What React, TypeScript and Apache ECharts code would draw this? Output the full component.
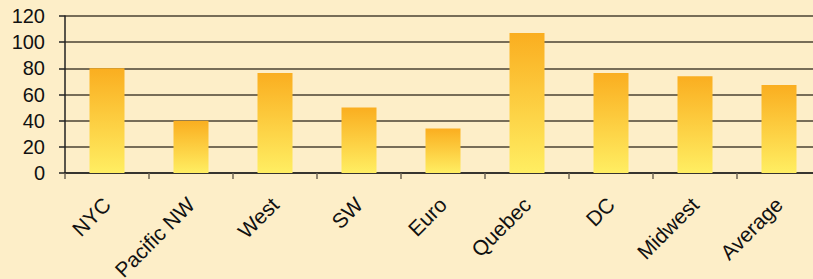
import React, { useEffect, useRef } from "react";
import * as echarts from "echarts";

const categories = ["NYC", "Pacific NW", "West", "SW", "Euro", "Quebec", "DC", "Midwest", "Average"];
const values = [80, 40, 76.5, 50, 34, 107, 76.5, 74, 67.3];
const yTicks = { min: 0, max: 120, interval: 20 };

export default function App() {
  const ref = useRef<HTMLDivElement>(null);
  useEffect(() => {
    if (!ref.current) return;
    const chart = echarts.init(ref.current, null, { renderer: "svg" });
    const font = "'Liberation Sans', Arial, Helvetica, sans-serif";
    chart.setOption({
      animation: false,
      backgroundColor: "#FDEEC8",
      grid: {
        left: 65,
        right: -8,
        top: 16,
        bottom: 106,
        containLabel: false,
        outerBoundsMode: "none",
      },
      xAxis: {
        type: "category",
        data: categories,
        axisLine: { show: true, lineStyle: { color: "#222", width: 1.5 } },
        axisTick: { show: true, length: 6, lineStyle: { color: "#6e6555", width: 1.5 } },
        axisLabel: {
          rotate: 45,
          interval: 0,
          margin: 28,
          color: "#111",
          fontSize: 21,
          fontFamily: font,
        },
      },
      yAxis: {
        type: "value",
        min: yTicks.min,
        max: yTicks.max,
        interval: yTicks.interval,
        axisLine: { show: true, lineStyle: { color: "#222", width: 1.5 } },
        axisTick: { show: true, length: 6, lineStyle: { color: "#222", width: 1.5 } },
        axisLabel: { margin: 20, color: "#111", fontSize: 20, fontFamily: font },
        splitLine: { show: true, lineStyle: { color: "#4a4233", width: 1.5 } },
      },
      series: [
        {
          type: "bar",
          data: values,
          barWidth: 35,
          itemStyle: {
            color: new echarts.graphic.LinearGradient(0, 0, 0, 1, [
              { offset: 0, color: "#FAAE20" },
              { offset: 1, color: "#FFEE62" },
            ]),
          },
        },
      ],
    });
    return () => chart.dispose();
  }, []);
  return (
    <div
      ref={ref}
      style={{ position: "fixed", left: 0, top: 0, width: 813, height: 279 }}
    />
  );
}
